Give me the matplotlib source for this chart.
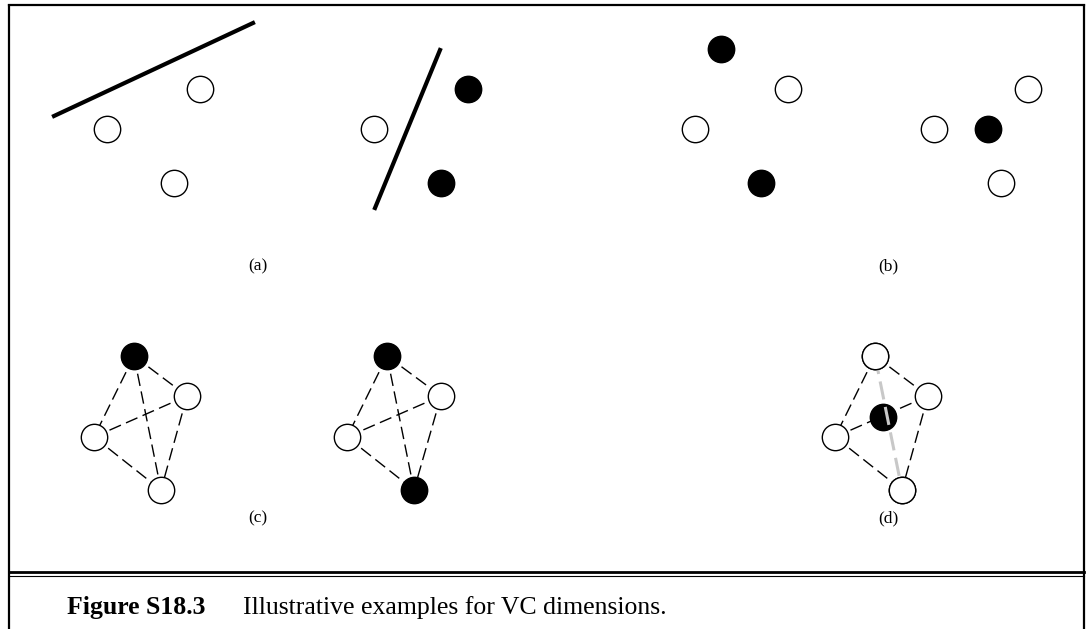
import matplotlib.pyplot as plt

# panel (a): three points, two separating lines
a1_open_x = [200, 107, 174]
a1_open_y = [89, 129, 183]
a1_line_x = [54, 253]
a1_line_y = [116, 23]

a2_open_x = [374]
a2_open_y = [129]
a2_fill_x = [468, 441]
a2_fill_y = [89, 183]
a2_line_x = [440, 375]
a2_line_y = [50, 208]

# panel (b): four points, XOR-like labelling
b1_open_x = [788, 695]
b1_open_y = [89, 129]
b1_fill_x = [721, 761]
b1_fill_y = [49, 183]

b2_open_x = [934, 1028, 1001]
b2_open_y = [129, 89, 183]
b2_fill_x = [988]
b2_fill_y = [129]

# panel (c): four points in convex position (top, right, left, bottom)
c1_x = [134, 187, 94, 161]
c1_y = [356, 396, 437, 490]
c1_filled = [True, False, False, False]
c2_x = [387, 441, 347, 414]
c2_y = [356, 396, 437, 490]
c2_filled = [True, False, False, True]

# panel (d): one point inside the triangle of the others
d_x = [875, 928, 835, 902]
d_y = [356, 396, 437, 490]
d_in_x = 883
d_in_y = 417

labels = ["(a)", "(b)", "(c)", "(d)"]
label_x = [258, 888, 258, 888]
label_y = [266, 266, 518, 518]

caption_bold = "Figure S18.3"
caption_text = "Illustrative examples for VC dimensions."

W, H = 1086, 629
fig = plt.figure(figsize=(W / 100, H / 100), dpi=100)
ax = fig.add_axes([0, 0, 1, 1])
ax.set_xlim(0, W)
ax.set_ylim(H, 0)
ax.axis("off")

serif = ["Liberation Serif", "DejaVu Serif"]
ms = 19
mew = 1.0


def pts(x, y, filled, z=5):
    ax.plot(x, y, "o", ms=ms, mew=mew, mec="black",
            mfc="black" if filled else "white", ls="none", zorder=z)


def dashed_k4(x, y, skip=None):
    for i in range(4):
        for j in range(i + 1, 4):
            if skip == (i, j):
                continue
            ax.plot([x[i], x[j]], [y[i], y[j]], color="black", lw=1.0,
                    dashes=(9, 4), zorder=2)


# frame
ax.plot([9, 9], [4, 629], color="black", lw=1.6, solid_capstyle="butt")
ax.plot([1084, 1084], [4, 629], color="black", lw=1.6, solid_capstyle="butt")
ax.plot([9, 1084], [5, 5], color="black", lw=1.6, solid_capstyle="projecting")
ax.plot([9, 1084], [571.5, 571.5], color="black", lw=2.0)
ax.plot([9, 1084], [575.5, 575.5], color="black", lw=0.8)

# (a)
ax.plot(a1_line_x, a1_line_y, color="black", lw=3.0, zorder=3)
pts(a1_open_x, a1_open_y, False)
ax.plot(a2_line_x, a2_line_y, color="black", lw=3.0, zorder=3)
pts(a2_open_x, a2_open_y, False)
pts(a2_fill_x, a2_fill_y, True)

# (b)
pts(b1_open_x, b1_open_y, False)
pts(b1_fill_x, b1_fill_y, True)
pts(b2_open_x, b2_open_y, False)
pts(b2_fill_x, b2_fill_y, True)

# (c)
dashed_k4(c1_x, c1_y)
for x, y, f in zip(c1_x, c1_y, c1_filled):
    pts([x], [y], f)
dashed_k4(c2_x, c2_y)
for x, y, f in zip(c2_x, c2_y, c2_filled):
    pts([x], [y], f)

# (d)
dashed_k4(d_x, d_y, skip=(0, 3))
pts(d_x, d_y, False)
pts([d_in_x], [d_in_y], True)
ax.plot([d_x[0], d_x[3]], [d_y[0], d_y[3]], color="#c8c8c8", lw=2.2,
        dashes=(6, 2.5), zorder=6)
pts([d_x[0], d_x[3]], [d_y[0], d_y[3]], False, z=7)

for t, x, y in zip(labels, label_x, label_y):
    ax.text(x, y, t, family=serif, fontsize=12.5, ha="center", va="center")

ax.text(67, 614, caption_bold, family=serif, fontsize=18.5, fontweight="bold",
        ha="left", va="baseline")
ax.text(243, 614, caption_text, family=serif, fontsize=18.5,
        ha="left", va="baseline")

fig.savefig("out.png", dpi=100)
